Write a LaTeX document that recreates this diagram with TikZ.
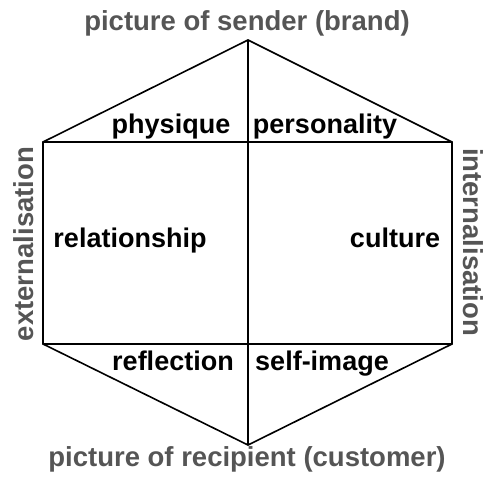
\documentclass[tikz,border=0pt]{standalone}
\usepackage{fontspec}
\setmainfont{Liberation Sans}
\definecolor{headgray}{HTML}{555555}
\begin{document}
\begin{tikzpicture}[x=1pt,y=-1pt,
  edge/.style={line width=1.6pt, line join=miter},
  lab/.style={inner sep=0pt, anchor=base, font=\fontsize{27}{30}\selectfont\bfseries, text=black},
  head/.style={inner sep=0pt, anchor=base, font=\fontsize{27.5}{30}\selectfont\bfseries, text=headgray}]
\useasboundingbox (0,0) rectangle (484,481);
\coordinate (T) at (248,40);
\coordinate (UL) at (43,142);
\coordinate (UR) at (452,142);
\coordinate (LL) at (43,344);
\coordinate (LR) at (452,344);
\coordinate (B) at (248,445);
\draw[edge] (T) -- (UR) -- (LR) -- (B) -- (LL) -- (UL) -- cycle;
\draw[edge] (T) -- (B);
\draw[edge] (UL) -- (UR);
\draw[edge] (LL) -- (LR);
\node[head] (sender) at (247,31) {picture of sender (brand)};
\node[head] (recipient) at (247,466) {picture of recipient (customer)};
\node[head, rotate=90] (ext) at (33,244) {externalisation};
\node[head, rotate=-90] (int) at (463,242) {internalisation};
\node[lab] (physique) at (171,134) {physique};
\node[lab] (personality) at (325,134) {personality};
\node[lab] (relationship) at (130,247) {relationship};
\node[lab] (culture) at (395,247) {culture};
\node[lab] (reflection) at (173,370) {reflection};
\node[lab] (selfimage) at (322,370) {self-image};
\end{tikzpicture}
\end{document}
